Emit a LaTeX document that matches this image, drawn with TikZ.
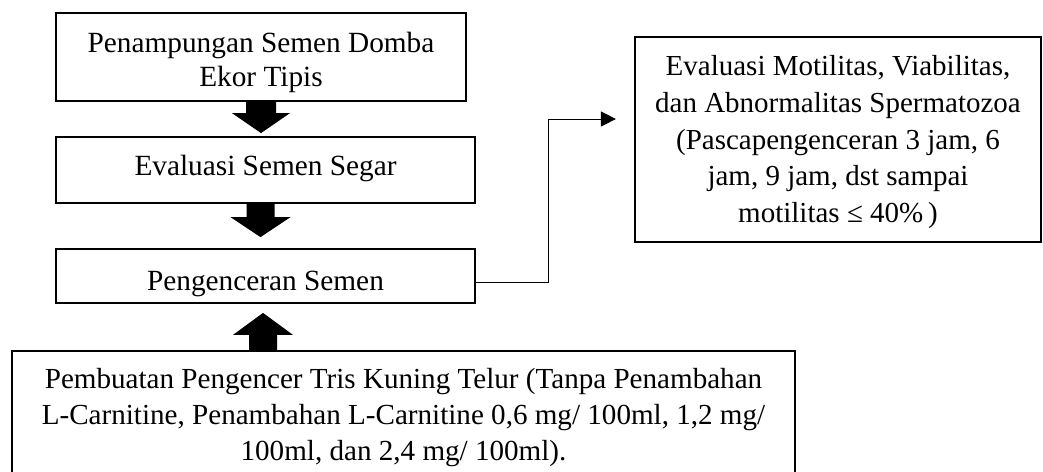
\documentclass[tikz,border=0pt]{standalone}
\usepackage{fontspec}
\setmainfont{Liberation Serif}
\usetikzlibrary{arrows.meta,calc}
\tikzset{
  box/.style={draw=black, line width=2.2pt, rectangle, inner sep=0pt, align=center, text=black},
  blockarrow/.style={fill=black, draw=none},
  link/.style={draw=black, line width=1pt, -{Triangle[length=15pt,width=15pt]}},
}
\begin{document}
\begin{tikzpicture}[x=1pt,y=-1pt]
\path[use as bounding box, fill=white] (0,0) rectangle (1043,471);
\clip (0,0) rectangle (1043,471);
% boxes
\node[box, minimum width=410pt, minimum height=88pt, text height=60pt, text depth=2pt,
      font={\fontsize{29.3pt}{34pt}\selectfont}] (b1) at (261,57)
  {Penampungan Semen Domba\\Ekor Tipis};
\node[box, minimum width=419pt, minimum height=66pt, text height=20pt, text depth=10pt,
      font={\fontsize{29.3pt}{34pt}\selectfont}] (b2) at (265.5,170)
  {Evaluasi Semen Segar};
\node[box, minimum width=419pt, minimum height=54pt, text height=30pt, text depth=2pt,
      font={\fontsize{29.3pt}{34pt}\selectfont}] (b3) at (265.5,276)
  {Pengenceran Semen};
\node[box, minimum width=783pt, minimum height=134pt, text height=90pt, text depth=5.4pt,
      font={\fontsize{29.1pt}{36pt}\selectfont}] (b4) at (403.5,418)
  {Pembuatan Pengencer Tris Kuning Telur (Tanpa Penambahan\\L-Carnitine, Penambahan L-Carnitine 0,6 mg/ 100ml, 1,2 mg/\\100ml, dan 2,4 mg/ 100ml).};
\node[box, minimum width=406pt, minimum height=205pt, text height=170pt, text depth=3.6pt,
      font={\fontsize{29pt}{36.75pt}\selectfont}] (b5) at (838,139.5)
  {Evaluasi Motilitas, Viabilitas,\\dan Abnormalitas Spermatozoa\\(Pascapengenceran 3 jam, 6\\jam, 9 jam, dst sampai\\motilitas ≤ 40\%\,)};
% block arrows
\fill[blockarrow] ($(b1.south)+(-15,0)$) -- ++(0,11) -- ++(-14,0) -- ++(29,20) -- ++(29,-20) -- ++(-14,0) -- ++(0,-11) -- cycle;
\fill[blockarrow] ($(b2.south)+(-19,0)$) -- ++(0,13) -- ++(-16,0) -- ++(30,20) -- ++(30,-20) -- ++(-16,0) -- ++(0,-13) -- cycle;
\fill[blockarrow] ($(b4.north -| b3.south)+(-16.5,0)$) -- ++(0,-15) -- ++(-16,0) -- ++(30,-22) -- ++(30,22) -- ++(-16,0) -- ++(0,15) -- cycle;
% connector
\coordinate (c5) at ($(b5.west)+(-18,-20.5)$);
\draw[link] ($(b3.east)+(0,6)$) -- ++(72,0) |- (c5);
\end{tikzpicture}
\end{document}
